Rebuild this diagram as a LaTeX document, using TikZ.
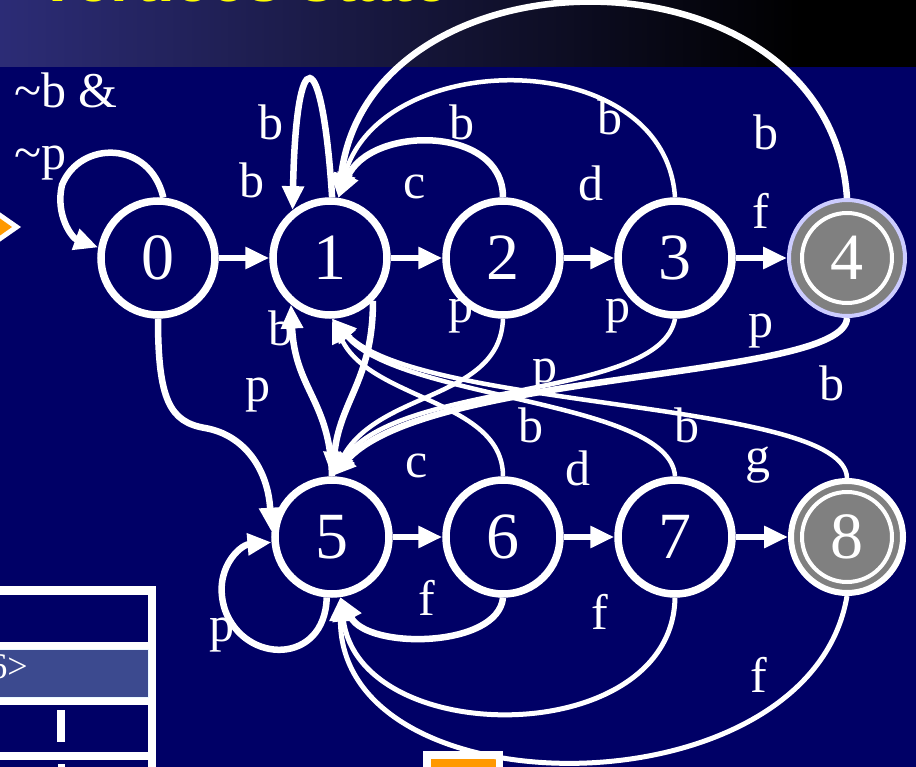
\documentclass[tikz,border=0pt]{standalone}
\usepackage{fontspec}
\setmainfont{Liberation Serif}
\setsansfont{Liberation Sans}
\usetikzlibrary{arrows.meta}
\definecolor{navy}{RGB}{0,0,102}
\definecolor{bandL}{RGB}{44,44,118}
\definecolor{lav}{RGB}{204,204,255}
\definecolor{stgray}{RGB}{128,128,128}
\definecolor{orng}{RGB}{255,153,0}
\definecolor{rowhi}{RGB}{60,74,143}
\definecolor{ttl}{RGB}{255,255,0}
\begin{document}
\begin{tikzpicture}[x=1pt,y=-1pt,
  state/.style={circle, draw=white, line width=7.5pt, fill=navy, minimum size=114pt, inner sep=0pt, text=white, font=\fontsize{66}{66}\selectfont},
  final/.style={state, fill=stgray},
  lbl/.style={text=white, font=\fontsize{50}{50}\selectfont, inner sep=0pt},
  edge/.style={draw=white, line width=6.5pt, -{Triangle[length=24pt,width=21pt]}},
  thinedge/.style={line width=4.5pt},
  ring/.style={draw=white, line width=4pt}]
\useasboundingbox (0,0) rectangle (916,767);
\clip (0,0) rectangle (916,767);
% background
\fill[navy] (0,0) rectangle (916,767);
\shade[left color=bandL, right color=black] (0,0) rectangle (801,67);
\fill[black] (800,0) rectangle (916,67);
\node[text=ttl, font=\sffamily\bfseries\fontsize{64}{64}\selectfont, anchor=base west, inner sep=0pt] (title) at (36,1.5) {Vertices state};
% left diamond
\fill[white] (21,227) -- (-12,204) -- (-45,227) -- (-12,250) -- cycle;
\fill[orng] (12,227) -- (-12,210) -- (-36,227) -- (-12,244) -- cycle;
% table
\fill[white] (-5,586) rectangle (156,780);
\fill[navy] (-5,595) rectangle (148,642);
\fill[rowhi] (-5,649) rectangle (148,697);
\draw[cyan!8, line width=1pt] (-5,649) rectangle (148,697);
\fill[navy] (-5,705) rectangle (148,752);
\fill[navy] (-5,760) rectangle (148,780);
\fill[white] (57,710) rectangle (65,742);
\fill[white] (58,764) rectangle (65,780);
\node[text=white, font=\fontsize{36}{36}\selectfont, anchor=east, inner sep=0pt] (t6) at (28,667) {6>};
% orange box bottom
\fill[white] (423,751) rectangle (503,780);
\fill[orng] (431,759) rectangle (496,780);
% states
\node[state] (n0) at (158,258) {0};
\node[state] (n1) at (330,258) {1};
\node[state] (n2) at (503,258) {2};
\node[state] (n3) at (675,258) {3};
\node[final, draw=lav, line width=4pt, minimum size=116pt] (n4) at (847,258) {4};
\node[state] (n5) at (332,537) {5};
\node[state] (n6) at (503,537) {6};
\node[state] (n7) at (675,537) {7};
\node[final, line width=6pt, minimum size=112pt] (n8) at (847,537) {8};
\draw[ring] (n4.center) circle[radius=45pt];
\draw[ring] (n8.center) circle[radius=45pt];
% labels
\node[lbl, anchor=west] (l0a) at (14,90) {\textasciitilde b \&};
\node[lbl, anchor=west] (l0b) at (14,163) {\textasciitilde p};
\node[lbl] (l11) at (271,122) {b};
\node[lbl] (l01) at (252,180) {b};
\node[lbl] (l21) at (462,122) {b};
\node[lbl] (l12) at (415,187) {c};
\node[lbl] (l31) at (610,117) {b};
\node[lbl] (l23) at (591,183) {d};
\node[lbl] (l41) at (766,132) {b};
\node[lbl] (l34) at (761,211) {f};
\node[lbl] (l25) at (461,316) {p};
\node[lbl] (l35) at (618,316) {p};
\node[lbl] (l45) at (761,331) {p};
\node[lbl] (l15) at (545,376) {p};
\node[lbl] (l05) at (258,395) {p};
\node[lbl] (l51) at (281,328) {b};
\node[lbl] (l61) at (531,425) {b};
\node[lbl] (l71) at (687,425) {b};
\node[lbl] (l81) at (832,383) {b};
\node[lbl] (l56) at (417,466) {c};
\node[lbl] (l67) at (578,468) {d};
\node[lbl] (l78) at (758,465) {g};
\node[lbl] (l65) at (427,598) {f};
\node[lbl] (l75) at (600,612) {f};
\node[lbl] (l85) at (759,675) {f};
\node[lbl] (l55) at (222,635) {p};
% straight edges
\draw[edge] (n0) -- (n1);
\draw[edge] (n1) -- (n2);
\draw[edge] (n2) -- (n3);
\draw[edge] (n3) -- (n4);
\draw[edge] (n5) -- (n6);
\draw[edge] (n6) -- (n7);
\draw[edge] (n7) -- (n8);
% loops
\draw[edge] (n0.85) .. controls (150,140) and (80,140) .. (62,185) .. controls (55,215) and (72,238) .. (n0.170);
\draw[edge] (n1.88) .. controls (322,40) and (296,40) .. (n1.128);
\draw[edge] (n5.265) .. controls (325,665) and (245,665) .. (225,610) .. controls (212,570) and (240,545) .. (n5.185);
% back edges to 1 (top)
\draw[edge] (n2.north) .. controls (503,125) and (370,125) .. (n1.82);
\draw[edge, thinedge] (n3.north) .. controls (665,45) and (380,45) .. (n1.82);
\draw[edge] (n4.north) .. controls (830,-60) and (370,-60) .. (n1.82);
% bottom row to 1
\draw[edge] (n5.north) .. controls (330,400) and (295,390) .. (n1.230);
\draw[edge, thinedge] (n6.north) .. controls (503,400) and (370,400) .. (n1.-88);
\draw[edge, thinedge] (n7.north) .. controls (670,400) and (400,400) .. (n1.-88);
\draw[edge, thinedge] (n8.north) .. controls (845,400) and (420,410) .. (n1.-88);
% top row to 5
\draw[edge] (n1.-45) .. controls (373,380) and (340,400) .. (n5.north);
\draw[edge, thinedge] (n2.south) .. controls (500,400) and (380,390) .. (n5.north);
\draw[edge, thinedge] (n3.south) .. controls (660,400) and (400,380) .. (n5.north);
\draw[edge] (n4.south) .. controls (845,380) and (430,370) .. (n5.north);
\draw[edge] (n0.south) .. controls (158,400) and (170,422) .. (205,428) .. controls (245,435) and (268,470) .. (n5.175);
% bottom back edges to 5
\draw[edge] (n6.south) .. controls (498,648) and (368,650) .. (n5.-82);
\draw[edge, line width=5pt] (n7.south) .. controls (672,750) and (360,750) .. (n5.-82);
\draw[edge, line width=5pt] (n8.south) .. controls (810,815) and (340,815) .. (n5.-82);
\end{tikzpicture}
\end{document}
